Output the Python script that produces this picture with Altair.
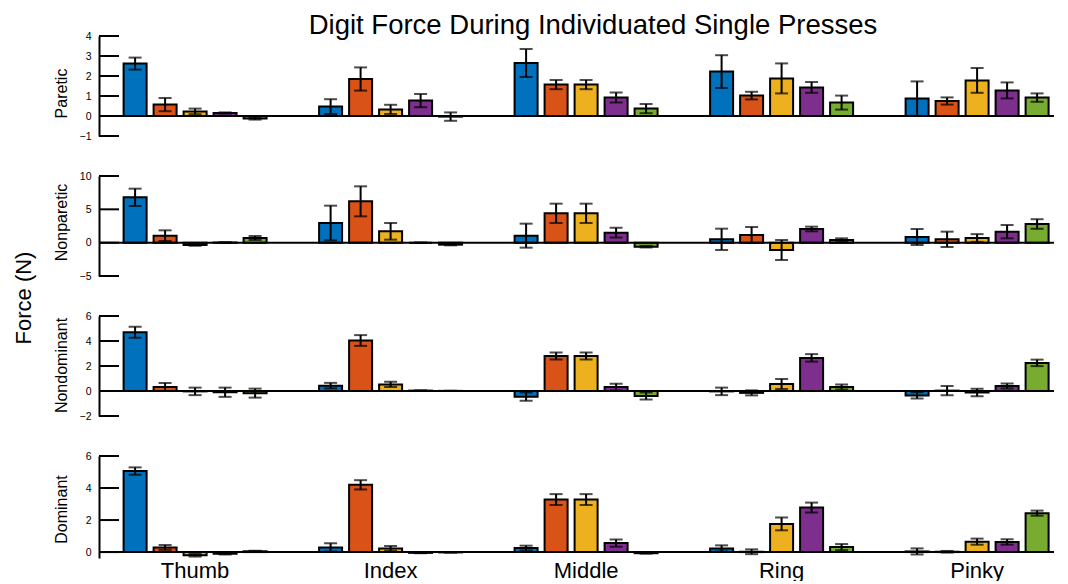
import altair as alt
import pandas as pd

FONT = "Liberation Sans, Arial, sans-serif"

digits = ["Thumb", "Index", "Middle", "Ring", "Pinky"]
series = ["Thumb force", "Index force", "Middle force", "Ring force", "Pinky force"]
colors = ["#0072BD", "#D95319", "#EDB120", "#7E2F8E", "#77AC30"]

# rows = pressed digit (group), columns = force of each digit (bar colour)
paretic_mean = [
    [2.62, 0.57, 0.23, 0.15, -0.12],
    [0.47, 1.85, 0.33, 0.77, -0.03],
    [2.65, 1.57, 1.57, 0.92, 0.37],
    [2.22, 1.02, 1.88, 1.43, 0.67],
    [0.87, 0.75, 1.78, 1.28, 0.92],
]
paretic_err = [
    [0.30, 0.33, 0.14, 0.03, 0.06],
    [0.37, 0.58, 0.23, 0.33, 0.21],
    [0.70, 0.23, 0.23, 0.25, 0.23],
    [0.82, 0.19, 0.75, 0.27, 0.35],
    [0.86, 0.18, 0.62, 0.40, 0.21],
]
nonparetic_mean = [
    [6.8, 1.05, -0.35, 0.02, 0.7],
    [2.95, 6.2, 1.7, 0.0, -0.3],
    [1.05, 4.4, 4.4, 1.5, -0.6],
    [0.5, 1.15, -1.1, 2.05, 0.4],
    [0.85, 0.5, 0.7, 1.65, 2.8],
]
nonparetic_err = [
    [1.3, 0.8, 0.12, 0.05, 0.3],
    [2.6, 2.25, 1.25, 0.03, 0.1],
    [1.8, 1.45, 1.45, 0.72, 0.12],
    [1.6, 1.2, 1.5, 0.35, 0.25],
    [1.2, 1.15, 0.58, 1.0, 0.72],
]
nondominant_mean = [
    [4.7, 0.32, -0.03, -0.1, -0.17],
    [0.43, 4.04, 0.53, 0.03, 0.01],
    [-0.45, 2.8, 2.8, 0.32, -0.4],
    [-0.03, -0.15, 0.56, 2.65, 0.32],
    [-0.35, 0.03, -0.12, 0.4, 2.25],
]
nondominant_err = [
    [0.44, 0.32, 0.30, 0.37, 0.36],
    [0.22, 0.43, 0.21, 0.02, 0.01],
    [0.33, 0.28, 0.28, 0.27, 0.28],
    [0.30, 0.20, 0.40, 0.30, 0.20],
    [0.25, 0.37, 0.30, 0.20, 0.26],
]
dominant_mean = [
    [5.06, 0.29, -0.2, -0.1, 0.05],
    [0.29, 4.2, 0.23, -0.05, -0.02],
    [0.25, 3.28, 3.28, 0.56, -0.07],
    [0.23, 0.02, 1.76, 2.78, 0.31],
    [0.04, 0.02, 0.65, 0.63, 2.43],
]
dominant_err = [
    [0.23, 0.15, 0.08, 0.05, 0.03],
    [0.26, 0.29, 0.15, 0.02, 0.01],
    [0.15, 0.34, 0.34, 0.23, 0.03],
    [0.19, 0.15, 0.40, 0.31, 0.19],
    [0.19, 0.05, 0.19, 0.17, 0.16],
]

panel_names = ["Paretic", "Nonparetic", "Nondominant", "Dominant"]
panel_domains = [[-1, 4], [-5, 10], [-2, 6], [-0.37, 6]]
panel_ticks = [[-1, 0, 1, 2, 3, 4], [-5, 0, 5, 10], [-2, 0, 2, 4, 6], [0, 2, 4, 6]]

# layout constants (pixels)
W = 955
GROUP_STEP = 195.5
BAR_STEP = 30.0
BAR_W = 23.0
FIRST_LEFT = 24.6
BAND_W = 4 * BAR_STEP + BAR_W
PI = 1 - BAND_W / GROUP_STEP
PO = (W / GROUP_STEP - (5 - PI)) / 2
ALIGN = FIRST_LEFT / (W - GROUP_STEP * (5 - PI))
OPI = 1 - BAR_W / BAR_STEP

xscale = alt.Scale(paddingInner=PI, paddingOuter=PO, align=ALIGN, round=False)
oscale = alt.Scale(paddingInner=OPI, paddingOuter=0, round=False)
cscale = alt.Scale(domain=series, range=colors)


def panel(idx, means, errs, height, title_y, bottom=False, extra=None):
    rows = []
    for gi, g in enumerate(digits):
        for si, s in enumerate(series):
            m = means[gi][si]
            e = errs[gi][si]
            rows.append({"digit": g, "series": s, "mean": m, "lo": m - e, "hi": m + e})
    df = pd.DataFrame(rows)
    yscale = alt.Scale(domain=panel_domains[idx], nice=False, zero=False)
    if bottom:
        xaxis = alt.Axis(title=None, ticks=False, domain=False, labelAngle=0,
                         labelFontSize=22, labelFont=FONT, labelColor="black",
                         labelPadding=2)
    else:
        xaxis = alt.Axis(title=None, ticks=False, domain=False, labels=False)
    yaxis = alt.Axis(values=panel_ticks[idx], ticks=False, grid=False,
                     domainColor="black", domainWidth=2,
                     labelFontSize=10.5, labelFont=FONT, labelColor="black",
                     labelPadding=8,
                     title=panel_names[idx], titleX=-30, titleY=title_y,
                     titleFontSize=16, titleFont=FONT, titleFontWeight="normal",
                     titleColor="black", titleAlign="center", titleBaseline="bottom")
    xenc = alt.X("digit:N", sort=digits, scale=xscale, axis=xaxis)
    oenc = alt.XOffset("series:N", sort=series, scale=oscale)

    def Y(field):
        return alt.Y(field, scale=yscale, axis=yaxis)

    bars = alt.Chart(df).mark_bar(stroke="black", strokeWidth=2).encode(
        x=xenc, xOffset=oenc,
        y=Y("mean:Q"),
        y2=alt.datum(0),
        color=alt.Color("series:N", sort=series, scale=cscale, legend=None),
    )
    errs_rule = alt.Chart(df).mark_rule(color="black", strokeWidth=2).encode(
        x=xenc, xOffset=oenc, y=Y("lo:Q"), y2="hi:Q",
    )
    cap_lo = alt.Chart(df).mark_tick(color="black", thickness=2, size=13).encode(
        x=xenc, xOffset=oenc, y=Y("lo:Q"),
    )
    cap_hi = alt.Chart(df).mark_tick(color="black", thickness=2, size=13).encode(
        x=xenc, xOffset=oenc, y=Y("hi:Q"),
    )
    zero = alt.Chart(pd.DataFrame({"v": [0]})).mark_rule(color="black", strokeWidth=2).encode(
        y=Y("v:Q"), x=alt.value(0), x2=alt.value(W),
    )
    tk = alt.Chart(pd.DataFrame({"t": panel_ticks[idx]})).mark_rule(color="black", strokeWidth=2).encode(
        y=Y("t:Q"), x=alt.value(0), x2=alt.value(20),
    )
    layers = [bars, errs_rule, cap_lo, cap_hi, zero, tk]
    if extra is not None:
        layers.append(extra)
    return alt.layer(*layers).properties(width=W, height=height)


force_label = alt.Chart(pd.DataFrame({"label": ["Force (N)"]})).mark_text(
    angle=270, align="center", baseline="alphabetic", fontSize=22, font=FONT, color="black"
).encode(text="label:N", x=alt.value(-68), y=alt.value(122))

p1 = panel(0, paretic_mean, paretic_err, 100, 57)
p2 = panel(1, nonparetic_mean, nonparetic_err, 100, 46, extra=force_label)
p3 = panel(2, nondominant_mean, nondominant_err, 100, 49)
p4 = panel(3, dominant_mean, dominant_err, 102, 53, bottom=True)

chart = alt.vconcat(p1, p2, p3, p4, spacing=40, bounds="flush").properties(
    title=alt.TitleParams("Digit Force During Individuated Single Presses", fontSize=27.5,
                          font=FONT, fontWeight="normal", color="black",
                          anchor="middle", dx=59, offset=-8),
    padding={"left": 5, "top": 3, "right": 0, "bottom": 0},
    background="white",
).configure_view(stroke=None)

chart.save("out.html", embed_options={"renderer": "svg", "actions": False})
